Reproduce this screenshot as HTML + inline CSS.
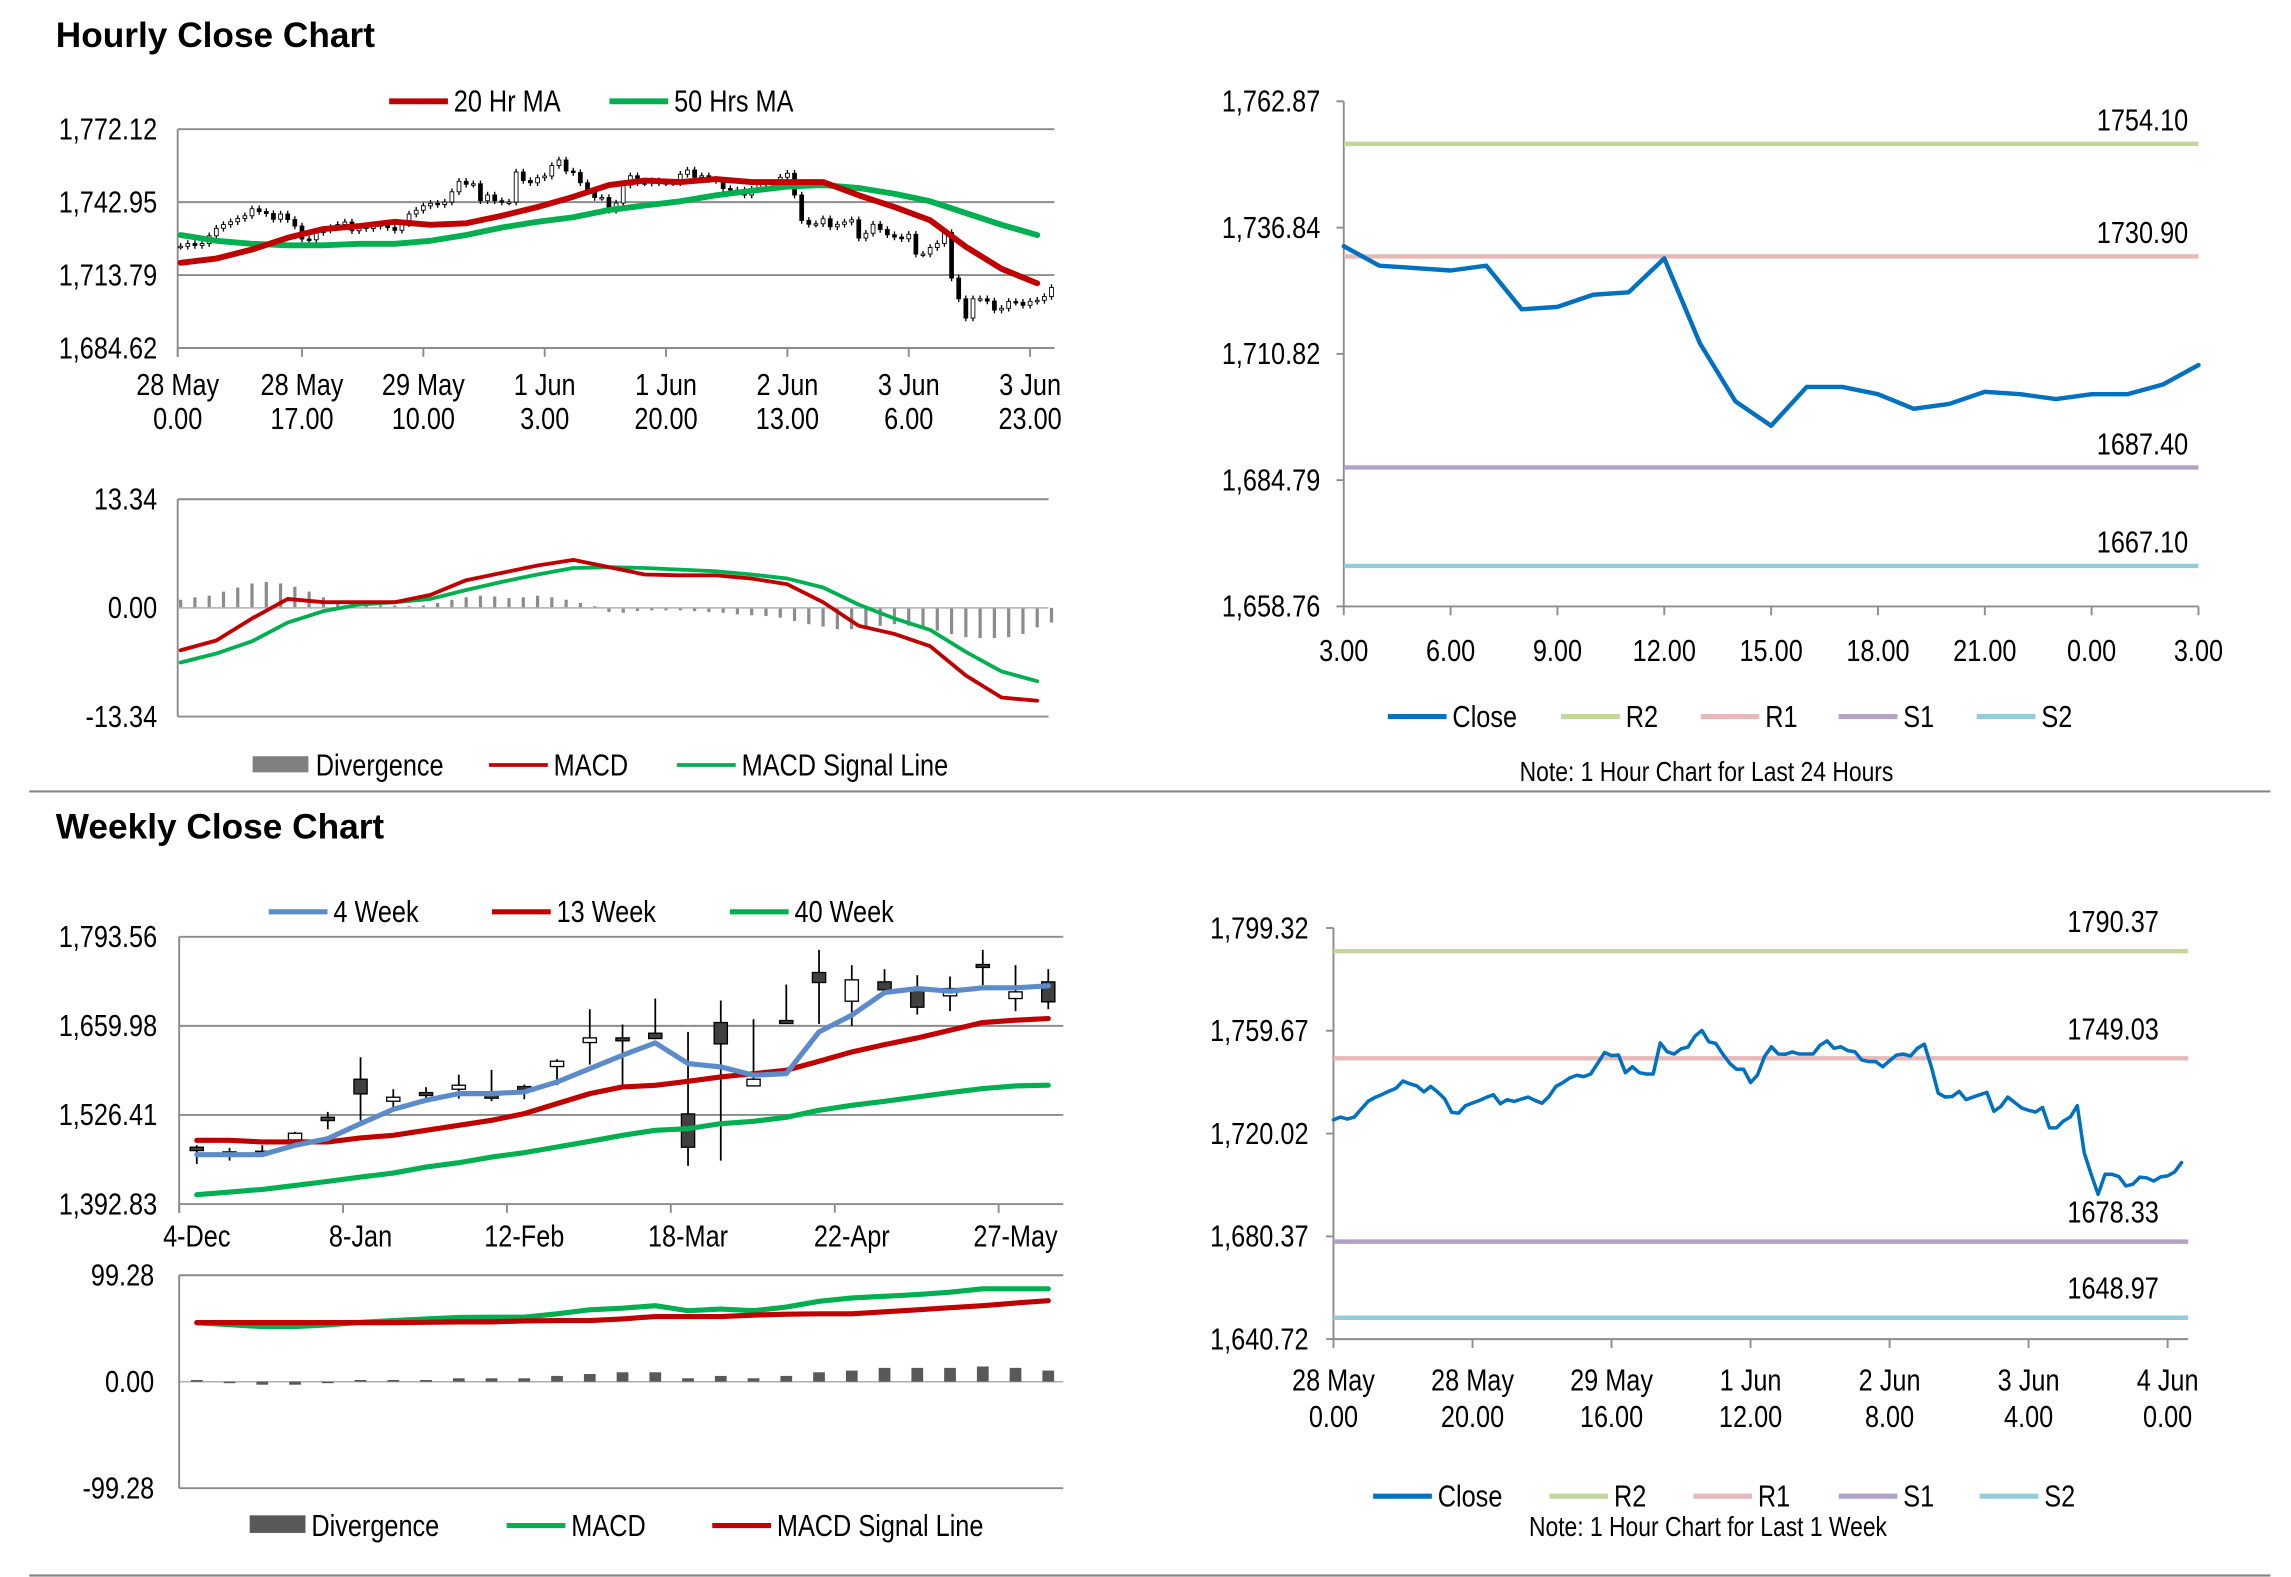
<!DOCTYPE html>
<html><head><meta charset="utf-8">
<style>
html,body{margin:0;padding:0;background:#fff;}
svg{display:block;}
text{font-family:"Liberation Sans Narrow","Liberation Sans",sans-serif;fill:#000;}
.t{font-family:"Liberation Sans",sans-serif;font-weight:bold;font-size:24px;}
</style></head>
<body>
<svg id="root" xmlns="http://www.w3.org/2000/svg" width="2291" height="1577" viewBox="0 0 1560 1074" preserveAspectRatio="none">
<rect x="0" y="0" width="1560" height="1074" fill="#fff"/>
<text class="t" x="38" y="32">Hourly Close Chart</text>
<text class="t" x="38" y="571">Weekly Close Chart</text>
<line x1="20" y1="539" x2="1546" y2="539" stroke="#888" stroke-width="1.5"/>
<line x1="20" y1="1073" x2="1546" y2="1073" stroke="#888" stroke-width="1.5"/>
</svg>
<script>
// ===== data =====
const hourCloses = [1725.3,1726.4,1725.6,1726.4,1729.5,1732.5,1734.0,1735.1,1736.4,1737.5,1740.3,1739.2,1738.4,1736.1,1738.2,1736.0,1733.4,1728.2,1727.9,1730.8,1731.8,1732.8,1734.0,1735.0,1731.5,1733.1,1732.4,1733.3,1734.1,1732.8,1731.7,1734.3,1738.2,1739.7,1741.5,1742.5,1742.0,1743.0,1747.1,1751.3,1750.1,1750.3,1743.5,1745.8,1743.5,1743.0,1743.0,1755.0,1751.6,1750.7,1752.7,1753.4,1757.6,1759.8,1755.4,1754.8,1750.7,1747.1,1744.8,1744.8,1739.7,1742.6,1749.7,1753.5,1750.7,1750.6,1751.5,1750.7,1750.7,1750.7,1754.1,1755.8,1752.9,1753.5,1752.0,1751.6,1748.4,1747.8,1747.8,1745.8,1748.1,1750.3,1750.7,1749.9,1752.9,1754.5,1745.8,1735.6,1734.1,1734.3,1736.3,1733.1,1734.1,1735.0,1735.9,1728.6,1730.5,1734.1,1732.0,1729.9,1729.0,1728.3,1730.1,1722.2,1722.2,1724.8,1726.4,1730.8,1712.6,1704.3,1696.6,1704.3,1704.3,1703.4,1699.8,1700.5,1703.2,1702.9,1701.7,1703.3,1703.7,1705.2,1708.8];
const ma20 = [1718.7,1720.4,1724.0,1728.7,1732.2,1733.4,1735.1,1733.9,1734.5,1737.5,1741.0,1745.1,1749.8,1751.6,1751.0,1752.2,1751.0,1751.0,1751.0,1745.7,1741.0,1735.7,1725.1,1716.3,1710.5];
const ma50 = [1729.8,1727.5,1726.3,1725.7,1725.7,1726.3,1726.3,1727.5,1729.8,1732.8,1735.1,1736.9,1739.8,1741.6,1743.3,1745.7,1747.5,1749.2,1749.8,1748.6,1746.3,1743.3,1738.6,1733.9,1729.8];
const hTickLabels1 = ['28 May','28 May','29 May','1 Jun','1 Jun','2 Jun','3 Jun','3 Jun'];
const hTickLabels2 = ['0.00','17.00','10.00','3.00','20.00','13.00','6.00','23.00'];
const hYTicks = ['1,772.12','1,742.95','1,713.79','1,684.62'];
const hMacd = [-5.2,-4.0,-1.3,1.1,0.7,0.7,0.7,1.6,3.4,4.3,5.2,5.9,5.0,4.1,4.0,4.0,3.6,2.9,0.7,-2.2,-3.2,-4.7,-8.3,-11.0,-11.4];
const hSignal = [-6.7,-5.6,-4.1,-1.8,-0.4,0.4,0.7,1.1,2.2,3.2,4.1,4.9,5.0,4.9,4.7,4.5,4.1,3.6,2.5,0.4,-1.3,-2.7,-5.4,-7.8,-9.0];
const hDiv = [1.0,1.3,1.5,2.0,2.5,3.0,3.2,3.0,2.6,2.0,1.3,0.8,0.6,0.4,0.3,0.3,0.2,0.3,0.6,1.0,1.3,1.5,1.4,1.2,1.3,1.5,1.3,1.0,0.6,0.2,-0.5,-0.6,-0.4,-0.3,-0.3,-0.3,-0.4,-0.5,-0.6,-0.8,-0.9,-1.0,-1.2,-1.6,-2.0,-2.3,-2.6,-2.6,-2.5,-2.2,-2.0,-2.2,-2.6,-2.8,-3.2,-3.6,-3.7,-3.7,-3.6,-3.2,-2.4,-1.8];
const day24Close = [1733,1729,1728.5,1728,1729,1720,1720.5,1723,1723.5,1730.5,1713,1701,1696,1704,1704,1702.5,1699.5,1700.5,1703,1702.5,1701.5,1702.5,1702.5,1704.5,1708.5];
const day24Ticks = ['3.00','6.00','9.00','12.00','15.00','18.00','21.00','0.00','3.00'];
const day24YTicks = ['1,658.76','1,684.79','1,710.82','1,736.84','1,762.87'];
const day24Levels = [1754.10,1730.90,1687.40,1667.10];
const wOpen  = [1478,1471,1472,1489,1523,1580,1547,1560,1565,1556,1569,1599,1635,1642,1649,1528,1665,1570,1668,1740,1697,1726,1715,1705,1752,1701,1726];
const wClose = [1473,1470,1471,1499,1518,1558,1553,1556,1571,1552,1567,1607,1642,1638,1641,1478,1633,1580,1665,1725,1729,1714,1688,1716,1748,1711,1696];
const wHigh  = [1481,1477,1481,1501,1531,1613,1565,1568,1587,1594,1572,1610,1685,1662,1701,1651,1698,1670,1722,1774,1751,1745,1736,1734,1774,1751,1745];
const wLow   = [1453,1458,1468,1488,1505,1518,1538,1551,1551,1547,1550,1571,1602,1565,1640,1450,1458,1570,1665,1663,1660,1712,1677,1682,1721,1682,1685];
const wMA4  = [1466.9,1466.9,1466.9,1480.9,1490.9,1513.4,1534.9,1548.4,1558.4,1558.4,1560.9,1575.9,1595.9,1615.9,1634.5,1603.5,1598.5,1586.0,1588.4,1651.0,1676.0,1710.0,1716.0,1712.0,1717.0,1717.0,1720.0];
const wMA13 = [1488.4,1488.4,1485.9,1485.9,1485.9,1491.9,1495.9,1503.4,1510.9,1518.4,1528.4,1543.4,1558.4,1568.4,1570.9,1576.9,1583.4,1588.4,1593.4,1606.9,1620.9,1631.9,1641.9,1653.5,1665.0,1668.5,1671.0];
const wMA40 = [1406.8,1410.8,1414.8,1420.8,1426.8,1433.3,1439.3,1448.3,1454.8,1463.3,1469.9,1478.4,1486.9,1495.9,1503.4,1505.9,1513.4,1516.9,1522.9,1533.4,1540.9,1546.9,1553.4,1560.0,1566.0,1570.0,1571.0];
const wTicks = ['4-Dec','8-Jan','12-Feb','18-Mar','22-Apr','27-May'];
const wYTicks = ['1,793.56','1,659.98','1,526.41','1,392.83'];
const wMacd = [55.1,53.2,51.4,51.4,53.0,55.4,57.0,58.6,59.9,60.2,60.2,63.3,67.1,68.6,70.9,66.2,67.7,66.2,69.6,75.0,78.1,79.7,81.3,83.5,86.6,86.6,86.6];
const wSignal = [55.1,55.1,55.1,55.1,55.1,55.1,55.1,55.4,55.8,55.8,56.7,57.0,57.0,58.6,60.8,60.8,60.8,62.1,63.0,63.3,63.3,65.2,67.1,69.0,70.9,73.4,75.6];
const wDiv = [1.6,-1.3,-2.8,-2.8,-1.3,1.6,1.6,1.6,3.2,3.2,3.2,5.4,7.2,8.8,8.8,3.2,5.4,3.2,5.4,8.8,10.4,12.9,12.9,12.9,14.2,12.9,10.4];
const weekTicks1 = ['28 May','28 May','29 May','1 Jun','2 Jun','3 Jun','4 Jun'];
const weekTicks2 = ['0.00','20.00','16.00','12.00','8.00','4.00','0.00'];
const weekYTicks = ['1,640.72','1,680.37','1,720.02','1,759.67','1,799.32'];
const weekLevels = [1790.37,1749.03,1678.33,1648.97];

// ===== helpers =====
const NS = 'http://www.w3.org/2000/svg';
const root = document.getElementById('root');
const FS = 21;
function mk(tag, attrs, parent) {
  const e = document.createElementNS(NS, tag);
  for (const k in attrs) e.setAttribute(k, attrs[k]);
  (parent || root).appendChild(e);
  return e;
}
function grp(name) {
  const g = mk('g', {});
  
  
  return g;
}
function txt(g, x, y, s, anchor, size, name) {
  const t = mk('text', {x: 0, y: 0, transform: 'translate(' + x + ',' + y + ') scale(0.82,1)', 'text-anchor': anchor || 'start', 'font-size': size || FS}, g);
  t.textContent = s;
  
  
  return t;
}
function ln(g, x1, y1, x2, y2, color, w, name) {
  const l = mk('line', {x1: x1, y1: y1, x2: x2, y2: y2, stroke: color, 'stroke-width': w}, g);
  
  
  return l;
}
function poly(g, vals, xf, yf, color, w, name) {
  const pts = vals.map((v, i) => xf(i).toFixed(2) + ',' + yf(v).toFixed(2)).join(' ');
  const p = mk('polyline', {points: pts, fill: 'none', stroke: color, 'stroke-width': w, 'stroke-linejoin': 'round', 'stroke-linecap': 'round'}, g);
  
  
  return p;
}
function legendLine(g, x, y, color, label, w, name) {
  ln(g, x, y, x + 40, y, color, w || 4, name + '-swatch');
  txt(g, x + 44, y + 7, label, 'start', FS, name + '-label');
}
const GRID = '#8c8c8c';
const RED = '#c00000', GREEN = '#00b050', CBLUE = '#0070c0';
const LVL = ['#c3d69b', '#e6b9b8', '#b3a2c7', '#93cddd'];

// ===== Chart 1: hourly candles =====
(function () {
  const g = grp('hourly-candle-chart');
  const x0 = 121, x1 = 718, yTop = 88, yBot = 237, vMin = 1684.62, vMax = 1772.12;
  const step = (x1 - x0 - 4) / 122;
  const xH = h => x0 + 2 + h * step;
  const yV = v => yBot - (v - vMin) / (vMax - vMin) * (yBot - yTop);
  hYTicks.forEach((s, i) => {
    const y = yTop + i * (yBot - yTop) / 3;
    ln(g, x0, y, x1, y, GRID, 1.3, 'hourly-gridline');
    txt(g, x0 - 14, y + 7, s, 'end', FS, 'hourly-y-tick-label');
  });
  ln(g, x0, yTop, x0, yBot + 6, GRID, 1.3, 'hourly-y-axis');
  hTickLabels1.forEach((s, i) => {
    const x = xH(i * 17) - 2 * (i === 0 ? 1 : 0);
    ln(g, x, yBot, x, yBot + 6, GRID, 1.3, 'hourly-x-tick');
    txt(g, x, yBot + 32, s, 'middle', FS, 'hourly-x-tick-date');
    txt(g, x, yBot + 55, hTickLabels2[i], 'middle', FS, 'hourly-x-tick-time');
  });
  hourCloses.forEach((c, i) => {
    const o = i === 0 ? c : hourCloses[i - 1];
    const hi = Math.max(o, c) + 1.3, lo = Math.min(o, c) - 1.3;
    const x = xH(i);
    ln(g, x, yV(hi), x, yV(lo), '#000', 0.9, 'hourly-candle-wick');
    const top = yV(Math.max(o, c)), h = Math.max(1, yV(Math.min(o, c)) - top);
    const r = mk('rect', {x: x - 1.3, y: top, width: 2.6, height: h, fill: c >= o ? '#fff' : '#000', stroke: '#000', 'stroke-width': 0.6}, g);
    
    
  });
  const xMA = i => xH(i * 5);
  poly(g, ma50, xMA, yV, GREEN, 4, 'ma-50-line');
  poly(g, ma20, xMA, yV, RED, 4, 'ma-20-line');
  const lg = grp('hourly-legend');
  legendLine(lg, 265, 69, RED, '20 Hr MA', 4, 'legend-20hr-ma');
  legendLine(lg, 415, 69, GREEN, '50 Hrs MA', 4, 'legend-50hrs-ma');
})();

// ===== Chart 2: hourly MACD =====
(function () {
  const g = grp('hourly-macd-chart');
  const x0 = 121, x1 = 714, y0 = 414, span = 74, vMax = 13.34;
  const step = (718 - x0 - 4) / 122;
  const xH = h => x0 + 2 + h * step;
  const yV = v => y0 - v / vMax * span;
  ln(g, x0, y0 - span, x1, y0 - span, GRID, 1.3, 'macd-top-gridline');
  ln(g, x0, y0 + span, x1, y0 + span, GRID, 1.3, 'macd-bottom-gridline');
  ln(g, x0, y0 - span, x0, y0 + span, GRID, 1.3, 'macd-y-axis');
  ['13.34', '0.00', '-13.34'].forEach((s, i) => txt(g, x0 - 14, y0 - span + i * span + 7, s, 'end', FS, 'macd-y-tick-label'));
  hDiv.forEach((d, i) => {
    const x = xH(i * 2);
    ln(g, x, y0, x, yV(d), '#8c8c8c', 2.2, 'divergence-bar');
  });
  ln(g, x0, y0, x1, y0, '#b0b0b0', 1, 'macd-zero-line');
  const xS = i => xH(i * 5);
  poly(g, hSignal, xS, yV, GREEN, 2.6, 'macd-signal-line');
  poly(g, hMacd, xS, yV, RED, 2.6, 'macd-line');
  const lg = grp('hourly-macd-legend');
  const r = mk('rect', {x: 172, y: 515, width: 38, height: 11, fill: '#808080'}, lg);
  
  
  txt(lg, 215, 528, 'Divergence', 'start', FS, 'legend-divergence-label');
  legendLine(lg, 333, 521, RED, 'MACD', 2.6, 'legend-macd');
  legendLine(lg, 461, 521, GREEN, 'MACD Signal Line', 2.6, 'legend-macd-signal');
})();

// ===== Chart 3: last 24 hours =====
(function () {
  const g = grp('day-pivot-chart');
  const x0 = 915, x1 = 1497, yTop = 69, yBot = 413, vMin = 1658.76, vMax = 1762.87;
  const xI = i => x0 + i * (x1 - x0) / 24;
  const yV = v => yBot - (v - vMin) / (vMax - vMin) * (yBot - yTop);
  ln(g, x0, yTop, x0, yBot, GRID, 1.3, 'day-y-axis');
  ln(g, x0, yBot, x1, yBot, GRID, 1.3, 'day-x-axis');
  day24YTicks.forEach((s, i) => {
    const y = yBot - i * (yBot - yTop) / 4;
    ln(g, x0 - 5, y, x0, y, GRID, 1.3, 'day-y-tick');
    txt(g, x0 - 16, y + 7, s, 'end', FS, 'day-y-tick-label');
  });
  day24Ticks.forEach((s, i) => {
    const x = xI(i * 3);
    ln(g, x, yBot, x, yBot + 6, GRID, 1.3, 'day-x-tick');
    txt(g, x, yBot + 37, s, 'middle', FS, 'day-x-tick-label');
  });
  const names = ['r2', 'r1', 's1', 's2'];
  day24Levels.forEach((v, k) => {
    const y = yV(v);
    ln(g, x0, y, x1, y, LVL[k], 3, 'level-' + names[k] + '-line');
    txt(g, 1490, y - 9, v.toFixed(2), 'end', FS, 'level-' + names[k] + '-label');
  });
  poly(g, day24Close, xI, yV, CBLUE, 3, 'day-close-line');
  const lg = grp('day-legend');
  const items = [['Close', CBLUE, 945], ['R2', LVL[0], 1063], ['R1', LVL[1], 1158], ['S1', LVL[2], 1252], ['S2', LVL[3], 1346]];
  items.forEach(it => legendLine(lg, it[2], 488, it[1], it[0], 3.5, 'legend-' + it[0].toLowerCase()));
  txt(g, 1162, 532, 'Note: 1 Hour Chart for Last 24 Hours', 'middle', 19, 'day-chart-note');
})();

// ===== Chart 4: weekly candles =====
(function () {
  const g = grp('weekly-candle-chart');
  const x0 = 122, x1 = 724, yTop = 638, yBot = 820, vMin = 1392.83, vMax = 1793.56;
  const step = 22.3;
  const xW = i => 134 + i * step;
  const yV = v => yBot - (v - vMin) / (vMax - vMin) * (yBot - yTop);
  wYTicks.forEach((s, i) => {
    const y = yTop + i * (yBot - yTop) / 3;
    ln(g, x0, y, x1, y, GRID, 1.3, 'weekly-gridline');
    txt(g, x0 - 15, y + 7, s, 'end', FS, 'weekly-y-tick-label');
  });
  ln(g, x0, yTop, x0, yBot + 6, GRID, 1.3, 'weekly-y-axis');
  wTicks.forEach((s, i) => {
    const x = x0 + i * (111.6);
    ln(g, x, yBot, x, yBot + 6, GRID, 1.3, 'weekly-x-tick');
    txt(g, xW(i * 5), yBot + 29, s, 'middle', FS, 'weekly-x-tick-label');
  });
  wClose.forEach((c, i) => {
    const o = wOpen[i], x = xW(i);
    ln(g, x, yV(wHigh[i]), x, yV(wLow[i]), '#000', 1.2, 'weekly-candle-wick');
    const top = yV(Math.max(o, c)), h = Math.max(2, yV(Math.min(o, c)) - top);
    const r = mk('rect', {x: x - 4.5, y: top, width: 9, height: h, fill: c >= o ? '#fff' : '#404040', stroke: '#000', 'stroke-width': 0.9}, g);
    
    
  });
  poly(g, wMA40, xW, yV, GREEN, 3.5, 'ma-40-week-line');
  poly(g, wMA13, xW, yV, RED, 3.5, 'ma-13-week-line');
  poly(g, wMA4, xW, yV, '#5b8bc8', 3.5, 'ma-4-week-line');
  const lg = grp('weekly-legend');
  legendLine(lg, 183, 621, '#5b8bc8', '4 Week', 3.5, 'legend-4-week');
  legendLine(lg, 335, 621, RED, '13 Week', 3.5, 'legend-13-week');
  legendLine(lg, 497, 621, GREEN, '40 Week', 3.5, 'legend-40-week');
})();

// ===== Chart 5: weekly MACD =====
(function () {
  const g = grp('weekly-macd-chart');
  const x0 = 122, x1 = 724, y0 = 941, span = 72.5, vMax = 99.28;
  const xW = i => 134 + i * 22.3;
  const yV = v => y0 - v / vMax * span;
  ln(g, x0, y0 - span, x1, y0 - span, GRID, 1.3, 'wmacd-top-gridline');
  ln(g, x0, y0 + span, x1, y0 + span, GRID, 1.3, 'wmacd-bottom-gridline');
  ln(g, x0, y0, x1, y0, '#b0b0b0', 1, 'wmacd-zero-line');
  ln(g, x0, y0 - span, x0, y0 + span, GRID, 1.3, 'wmacd-y-axis');
  ['99.28', '0.00', '-99.28'].forEach((s, i) => txt(g, x0 - 17, y0 - span + i * span + 7, s, 'end', FS, 'wmacd-y-tick-label'));
  wDiv.forEach((d, i) => {
    const y = yV(d);
    const r = mk('rect', {x: xW(i) - 4, y: Math.min(y, y0), width: 8, height: Math.max(1, Math.abs(y - y0)), fill: '#595959'}, g);
    
    
  });
  poly(g, wMacd, xW, yV, GREEN, 3.5, 'weekly-macd-line');
  poly(g, wSignal, xW, yV, RED, 3.5, 'weekly-macd-signal-line');
  const lg = grp('weekly-macd-legend');
  const r = mk('rect', {x: 170, y: 1032, width: 38, height: 12, fill: '#595959'}, lg);
  
  
  txt(lg, 212, 1046, 'Divergence', 'start', FS, 'legend-weekly-divergence-label');
  legendLine(lg, 345, 1039, GREEN, 'MACD', 3.5, 'legend-weekly-macd');
  legendLine(lg, 485, 1039, RED, 'MACD Signal Line', 3.5, 'legend-weekly-macd-signal');
})();

// ===== Chart 6: last week hourly =====
(function () {
  const g = grp('week-pivot-chart');
  const x0 = 908, x1 = 1490, yTop = 632, yBot = 912, vMin = 1640.72, vMax = 1799.32;
  const hs = (1476 - 908) / 120;
  const xH = h => x0 + h * hs;
  const yV = v => yBot - (v - vMin) / (vMax - vMin) * (yBot - yTop);
  ln(g, x0, yTop, x0, yBot, GRID, 1.3, 'week-y-axis');
  ln(g, x0, yBot, x1, yBot, GRID, 1.3, 'week-x-axis');
  weekYTicks.forEach((s, i) => {
    const y = yBot - i * (yBot - yTop) / 4;
    ln(g, x0 - 5, y, x0, y, GRID, 1.3, 'week-y-tick');
    txt(g, x0 - 17, y + 7, s, 'end', FS, 'week-y-tick-label');
  });
  weekTicks1.forEach((s, i) => {
    const x = xH(i * 20);
    ln(g, x, yBot, x, yBot + 6, GRID, 1.3, 'week-x-tick');
    txt(g, x, yBot + 35, s, 'middle', FS, 'week-x-tick-date');
    txt(g, x, yBot + 60, weekTicks2[i], 'middle', FS, 'week-x-tick-time');
  });
  const names = ['r2', 'r1', 's1', 's2'];
  weekLevels.forEach((v, k) => {
    const y = yV(v);
    ln(g, x0, y, x1, y, LVL[k], 3, 'week-level-' + names[k] + '-line');
    txt(g, 1470, y - 13, v.toFixed(2), 'end', FS, 'week-level-' + names[k] + '-label');
  });
  poly(g, hourCloses, xH, yV, CBLUE, 2.4, 'week-close-line');
  const lg = grp('week-legend');
  const items = [['Close', CBLUE, 935], ['R2', LVL[0], 1055], ['R1', LVL[1], 1153], ['S1', LVL[2], 1252], ['S2', LVL[3], 1348]];
  items.forEach(it => legendLine(lg, it[2], 1019, it[1], it[0], 3.5, 'legend-week-' + it[0].toLowerCase()));
  txt(g, 1163, 1046, 'Note: 1 Hour Chart for Last 1 Week', 'middle', 19, 'week-chart-note');
})();
</script>
</body></html>
